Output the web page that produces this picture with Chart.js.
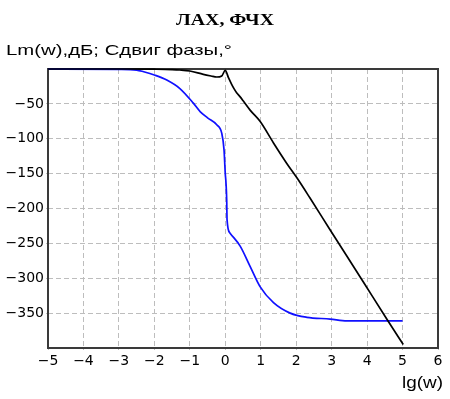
<!DOCTYPE html>
<html>
<head>
<meta charset="utf-8">
<script src="https://cdn.jsdelivr.net/npm/chart.js@4.4.1/dist/chart.umd.min.js"></script>
<style>
html,body{margin:0;padding:0;background:#fff;}
#wrap{width:450px;height:399px;position:relative;}
</style>
</head>
<body>
<div id="wrap"><canvas id="c" width="450" height="399"></canvas></div>
<script>
// Amplitude (ЛАХ), dB
const magX = [-5, -3, -2, -1.5, -1.28, -1.0, -0.62, -0.4, -0.24, -0.1, 0.0, 0.09, 0.18, 0.25, 0.32, 0.42, 0.51, 0.7, 0.98, 1.36, 1.73, 2.02, 2.39, 2.95, 3.89, 4.55, 5.02];
const magY = [0, 0, -0.3, -0.8, -1.4, -2.9, -7.7, -10, -11.5, -10, -2, -12.5, -22, -28.5, -34, -40, -46, -59, -75, -106, -135, -156, -185, -230, -305, -358, -395];
// Phase (ФЧХ), degrees
const phaseX = [-5, -3, -2.5, -2.3, -2.0, -1.65, -1.28, -0.9, -0.71, -0.5, -0.24, -0.1, -0.035, 0.0, 0.02, 0.04, 0.05, 0.13, 0.42, 0.7, 0.98, 1.36, 1.83, 2.3, 2.96, 3.43, 5.0];
const phaseY = [0, -0.5, -1.5, -4, -8.6, -15.8, -28, -49, -61, -70, -80, -92, -116, -150, -163, -187, -216, -235, -254, -283, -312, -335, -350, -356, -358.5, -361, -361];

const xTicks = [-5, -4, -3, -2, -1, 0, 1, 2, 3, 4, 5, 6];
const yTicks = [-50, -100, -150, -200, -250, -300, -350];

const titleText = 'ЛАХ, ФЧХ';
const yLabelText = 'Lm(w),дБ; Сдвиг фазы,°';
const xLabelText = 'lg(w)';

function pts(xs, ys){ return xs.map((x,i)=>({x:x, y:ys[i]})); }
function minus(v){ return String(v).replace('-', '\u2212'); }

function drawStretched(ctx, text, font, x, y, width, align){
  ctx.save();
  ctx.font = font;
  ctx.fillStyle = '#000';
  ctx.textBaseline = 'alphabetic';
  ctx.textAlign = 'left';
  const w = ctx.measureText(text).width;
  const s = width / w;
  let left = x;
  if (align === 'center') left = x - width/2;
  if (align === 'right') left = x - width;
  ctx.translate(left, y);
  ctx.scale(s, 1);
  ctx.fillText(text, 0, 0);
  ctx.restore();
}

const decor = {
  id: 'decor',
  beforeDatasetsDraw(chart){
    const {ctx, chartArea:a} = chart;
    ctx.save();
    ctx.strokeStyle = '#3a3a3a';
    ctx.lineWidth = 2;
    ctx.strokeRect(a.left, a.top, a.right - a.left, a.bottom - a.top);
    ctx.restore();
  },
  afterDraw(chart){
    const ctx = chart.ctx;
    drawStretched(ctx, titleText, 'bold 17px "Liberation Serif"', 225, 25, 98, 'center');
    drawStretched(ctx, yLabelText, '15px "Liberation Sans"', 6, 55, 226, 'left');
    drawStretched(ctx, xLabelText, '16px "Liberation Sans"', 443, 388, 41, 'right');
  }
};

new Chart(document.getElementById('c'), {
  type: 'scatter',
  data: {
    datasets: [
      { data: pts(magX, magY), showLine: true, borderColor: '#000000', borderWidth: 1.7, pointRadius: 0, cubicInterpolationMode: 'monotone', clip: 4 },
      { data: pts(phaseX, phaseY), showLine: true, borderColor: '#1010ff', borderWidth: 1.7, pointRadius: 0, cubicInterpolationMode: 'monotone', clip: 4 }
    ]
  },
  options: {
    responsive: false,
    animation: false,
    devicePixelRatio: 1,
    layout: { padding: { left: 0, right: 12, top: 69, bottom: 0 } },
    plugins: { legend: { display: false }, tooltip: { enabled: false }, title: { display: false } },
    scales: {
      x: {
        type: 'linear', min: -5, max: 6,
        afterFit(s){ s.height = 51; },
        afterBuildTicks(s){ s.ticks = xTicks.map(v=>({value:v})); },
        ticks: { color: '#000', font: { family: 'DejaVu Sans', size: 14 }, padding: 3, maxRotation: 0, autoSkip: false, callback: v => minus(v) },
        grid: { color: '#bdbdbd', lineWidth: 1, tickLength: 2, drawOnChartArea: true },
        border: { display: false, dash: [5,3] }
      },
      y: {
        type: 'linear', min: -400, max: 0,
        afterFit(s){ s.width = 48; },
        afterBuildTicks(s){ s.ticks = yTicks.map(v=>({value:v})); },
        ticks: { color: '#000', font: { family: 'DejaVu Sans', size: 14 }, padding: 2, autoSkip: false, callback: v => minus(v) },
        grid: { color: '#bdbdbd', lineWidth: 1, tickLength: 2 },
        border: { display: false, dash: [5,3] }
      }
    }
  },
  plugins: [decor]
});
</script>
</body>
</html>
